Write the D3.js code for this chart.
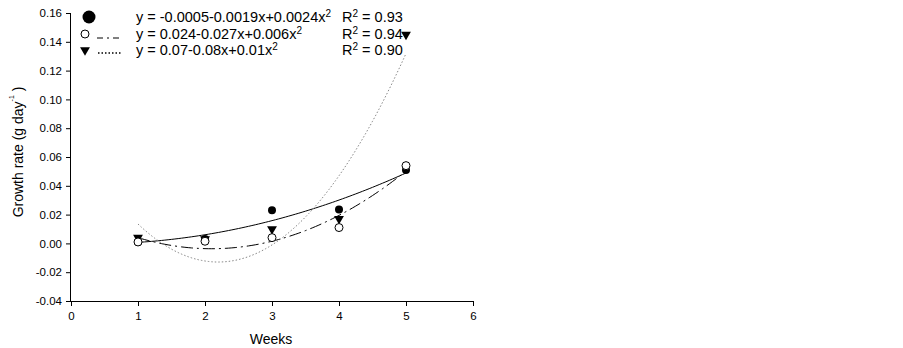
<!DOCTYPE html>
<html>
<head>
<meta charset="utf-8">
<script src="https://cdn.jsdelivr.net/npm/d3@7"></script>
<style>
  body { margin: 0; background: #fff; }
  text { font-family: "Liberation Sans", Arial, sans-serif; fill: #000; }
</style>
</head>
<body>
<script>
'use strict';

// data
var weeks = [1, 2, 3, 4, 5];
var filledCircle = [0.001, 0.003, 0.023, 0.0235, 0.051];
var openCircle = [0.001, 0.0015, 0.004, 0.011, 0.054];
var triangle = [0.004, 0.003, 0.010, 0.017, 0.145];
var xTicks = [0, 1, 2, 3, 4, 5, 6];
var yTicks = [-0.04, -0.02, 0.00, 0.02, 0.04, 0.06, 0.08, 0.10, 0.12, 0.14, 0.16];
var legendRows = [
  { sym: 'filled', eq: 'y = -0.0005-0.0019x+0.0024x', r2: '0.93' },
  { sym: 'open', eq: 'y = 0.024-0.027x+0.006x', r2: '0.94' },
  { sym: 'tri', eq: 'y = 0.07-0.08x+0.01x', r2: '0.90' }
];

var svg = d3.select('body').append('svg').attr('width', 903).attr('height', 348);

var x = d3.scaleLinear().domain([0, 6]).range([71, 473]);
var y = d3.scaleLinear().domain([-0.04, 0.16]).range([301, 13]);

// axes
var xAxis = svg.append('g').attr('transform', 'translate(0,301)')
  .call(d3.axisBottom(x).tickValues(xTicks).tickSize(5).tickPadding(6)
    .tickFormat(function (d) { return String(d); }));
var yAxis = svg.append('g').attr('transform', 'translate(71,0)')
  .call(d3.axisLeft(y).tickValues(yTicks).tickSize(5).tickPadding(4)
    .tickFormat(function (d) { return d.toFixed(2); }));
[xAxis, yAxis].forEach(function (a) {
  a.select('.domain').attr('stroke', '#000').attr('stroke-width', 1);
  a.selectAll('.tick line').attr('stroke', '#000');
  a.selectAll('.tick text').style('font-size', '11.5px').style('font-family', '"Liberation Sans", Arial, sans-serif');
});
xAxis.select('.domain').attr('d', 'M71.5,0.5H473.5');
yAxis.select('.domain').attr('d', 'M-0.5,13.5V301.5');

svg.append('text').attr('x', 271).attr('y', 344).attr('text-anchor', 'middle')
  .style('font-size', '14px').text('Weeks');

var yl = svg.append('text').attr('transform', 'translate(23,152) rotate(-90)')
  .attr('text-anchor', 'middle').style('font-size', '14px');
yl.append('tspan').text('Growth rate (g day');
yl.append('tspan').attr('dy', -9).style('font-size', '7px').text('-1');
yl.append('tspan').attr('dy', 9).text(' )');

// quadratic least squares fit
function fit(xs, ys) {
  var n = xs.length, s = [0, 0, 0, 0, 0], t = [0, 0, 0];
  for (var i = 0; i < n; i++) {
    for (var k = 0; k < 5; k++) s[k] += Math.pow(xs[i], k);
    for (var k2 = 0; k2 < 3; k2++) t[k2] += ys[i] * Math.pow(xs[i], k2);
  }
  var m = [[s[0], s[1], s[2], t[0]], [s[1], s[2], s[3], t[1]], [s[2], s[3], s[4], t[2]]];
  for (var c = 0; c < 3; c++) {
    for (var r = c + 1; r < 3; r++) {
      var f = m[r][c] / m[c][c];
      for (var j = c; j < 4; j++) m[r][j] -= f * m[c][j];
    }
  }
  var b = [0, 0, 0];
  for (var r2 = 2; r2 >= 0; r2--) {
    var v = m[r2][3];
    for (var j2 = r2 + 1; j2 < 3; j2++) v -= m[r2][j2] * b[j2];
    b[r2] = v / m[r2][r2];
  }
  return function (xv) { return b[0] + b[1] * xv + b[2] * xv * xv; };
}

var line = d3.line().x(function (d) { return x(d[0]); }).y(function (d) { return y(d[1]); });
var xs = d3.range(1, 5.0001, 0.05);

function drawFit(vals, dash, color, width) {
  var fn = fit(weeks, vals);
  svg.append('path').datum(xs.map(function (v) { return [v, fn(v)]; }))
    .attr('d', line).attr('fill', 'none').attr('stroke', color)
    .attr('stroke-width', width).attr('stroke-dasharray', dash);
}
drawFit(filledCircle, null, '#000', 1);
drawFit(openCircle, '12,4,2,4', '#000', 1);
drawFit(triangle, '1.5,2', '#888', 1);

var tri = d3.symbol().type(d3.symbolTriangle).size(42);

function drawSym(g, kind, cx, cy, big) {
  if (kind === 'filled') {
    g.append('circle').attr('cx', cx).attr('cy', cy).attr('r', big ? 6.5 : 4).attr('fill', '#000');
  } else if (kind === 'open') {
    g.append('circle').attr('cx', cx).attr('cy', cy).attr('r', 4).attr('fill', '#fff')
      .attr('stroke', '#000').attr('stroke-width', 1);
  } else {
    g.append('path').attr('d', tri).attr('fill', '#000')
      .attr('transform', 'translate(' + cx + ',' + cy + ') rotate(180)');
  }
}

var pts = svg.append('g');
weeks.forEach(function (w, i) { drawSym(pts, 'filled', x(w), y(filledCircle[i])); });
weeks.forEach(function (w, i) { drawSym(pts, 'tri', x(w), y(triangle[i])); });
weeks.forEach(function (w, i) { drawSym(pts, 'open', x(w), y(openCircle[i])); });

// legend
var lg = svg.append('g');
var rowY = [17, 34, 50];
legendRows.forEach(function (row, i) {
  var cy = rowY[i];
  drawSym(lg, row.sym, row.sym === 'filled' ? 89 : 85, cy, true);
  if (row.sym === 'open') {
    lg.append('line').attr('x1', 97).attr('x2', 123).attr('y1', cy + 4).attr('y2', cy + 4)
      .attr('stroke', '#000').attr('stroke-dasharray', '6,4,2,4');
  } else if (row.sym === 'tri') {
    lg.append('line').attr('x1', 98).attr('x2', 122).attr('y1', cy + 3).attr('y2', cy + 3)
      .attr('stroke', '#000').attr('stroke-width', 1.3).attr('stroke-dasharray', '1.5,2');
  }
  var t = lg.append('text').attr('x', 136).attr('y', cy + 5).style('font-size', '14.5px');
  t.append('tspan').text(row.eq);
  t.append('tspan').attr('dy', -5).style('font-size', '10px').text('2');
  var r = lg.append('text').attr('x', 342).attr('y', cy + 5).style('font-size', '14.5px');
  r.append('tspan').text('R');
  r.append('tspan').attr('dy', -5).style('font-size', '10px').text('2');
  r.append('tspan').attr('dy', 5).text(' = ' + row.r2);
});
</script>
</body>
</html>
